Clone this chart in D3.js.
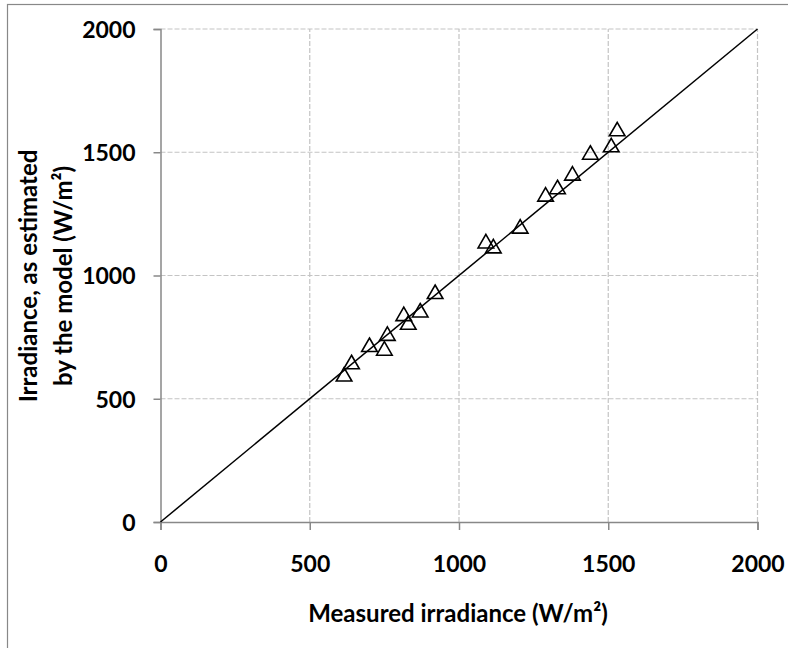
<!DOCTYPE html>
<html lang="en">
<head>
  <meta charset="utf-8" />
  <title>Measured vs estimated irradiance</title>
  <style>
    body { margin: 0; background: #fff; }
    svg text { font-family: Lato, "Open Sans", sans-serif; font-weight: bold; fill: #000; }
  </style>
</head>
<body>
  <svg id="chart" width="788" height="648"></svg>

  <script src="https://d3js.org/d3.v7.min.js"></script>
  <script>
    // measured irradiance (x) and model estimate (y), W/m2
    const measured  = [615, 640, 700, 750, 760, 815, 830, 870, 920, 1090, 1115, 1205, 1290, 1330, 1380, 1440, 1510, 1530];
    const estimated = [590, 640, 710, 695, 755, 835, 800, 850, 925, 1130, 1110, 1190, 1320, 1350, 1405, 1490, 1520, 1585];
    const xTicks = [0, 500, 1000, 1500, 2000];
    const yTicks = [0, 500, 1000, 1500, 2000];
    const diagonal = [0, 2000];

    const svg = d3.select('#chart');

    const x = d3.scaleLinear().domain([0, 2000]).range([160.5, 757.5]);
    const y = d3.scaleLinear().domain([0, 2000]).range([522, 29]);

    // outer frame (only left/top visible in picture)
    svg.append('rect')
      .attr('x', 7.5).attr('y', 4.5)
      .attr('width', 800).attr('height', 700)
      .attr('fill', 'none')
      .attr('stroke', '#888')
      .attr('stroke-width', 1.2);

    // dashed grid
    svg.append('g').selectAll('line.gx')
      .data(xTicks.slice(1))
      .enter().append('line')
      .attr('x1', d => x(d)).attr('x2', d => x(d))
      .attr('y1', y(0)).attr('y2', y(2000))
      .attr('stroke', '#c4c4c4')
      .attr('stroke-width', 1.2)
      .attr('stroke-dasharray', '5,2');

    svg.append('g').selectAll('line.gy')
      .data(yTicks.slice(1))
      .enter().append('line')
      .attr('x1', x(0)).attr('x2', x(2000))
      .attr('y1', d => y(d)).attr('y2', d => y(d))
      .attr('stroke', '#c4c4c4')
      .attr('stroke-width', 1.2)
      .attr('stroke-dasharray', '5,2');

    // axes
    const fmt = d3.format('d');
    const xAxis = d3.axisBottom(x).tickValues(xTicks).tickFormat(fmt).tickSize(8).tickPadding(26);
    const yAxis = d3.axisLeft(y).tickValues(yTicks).tickFormat(fmt).tickSize(7).tickPadding(18);

    const gx = svg.append('g').attr('transform', `translate(0,${y(0)})`).call(xAxis);
    const gy = svg.append('g').attr('transform', `translate(${x(0)},0)`).call(yAxis);

    [gx, gy].forEach(g => {
      g.select('.domain').attr('stroke', '#888').attr('stroke-width', 1.5);
      g.selectAll('.tick line').attr('stroke', '#888').attr('stroke-width', 1.5);
      g.selectAll('.tick text')
        .attr('font-family', 'Lato, sans-serif')
        .attr('font-weight', 'bold')
        .attr('font-size', 23)
        .attr('fill', '#000');
    });
    gy.selectAll('.tick text').attr('dy', '0.36em');

    // 1:1 line
    svg.append('line')
      .attr('x1', x(diagonal[0])).attr('y1', y(diagonal[0]))
      .attr('x2', x(diagonal[1])).attr('y2', y(diagonal[1]))
      .attr('stroke', '#000')
      .attr('stroke-width', 1.5);

    // open triangle markers
    const tri = d3.symbol().type(d3.symbolTriangle).size(105);
    svg.append('g').selectAll('path')
      .data(measured.map((m, i) => [m, estimated[i]]))
      .enter().append('path')
      .attr('d', tri)
      .attr('transform', d => `translate(${x(d[0])},${y(d[1])})`)
      .attr('fill', 'none')
      .attr('stroke', '#000')
      .attr('stroke-width', 1.6);

    // axis titles
    svg.append('text')
      .attr('x', 458).attr('y', 622)
      .attr('text-anchor', 'middle')
      .attr('font-size', 24)
      .text('Measured irradiance (W/m²)');

    const yt = svg.append('text')
      .attr('transform', 'translate(0,276) rotate(-90)')
      .attr('text-anchor', 'middle')
      .attr('font-size', 24);
    yt.append('tspan').attr('x', 0).attr('y', 37).text('Irradiance, as estimated');
    yt.append('tspan').attr('x', 0).attr('y', 72).text('by the model (W/m²)');
  </script>
</body>
</html>
